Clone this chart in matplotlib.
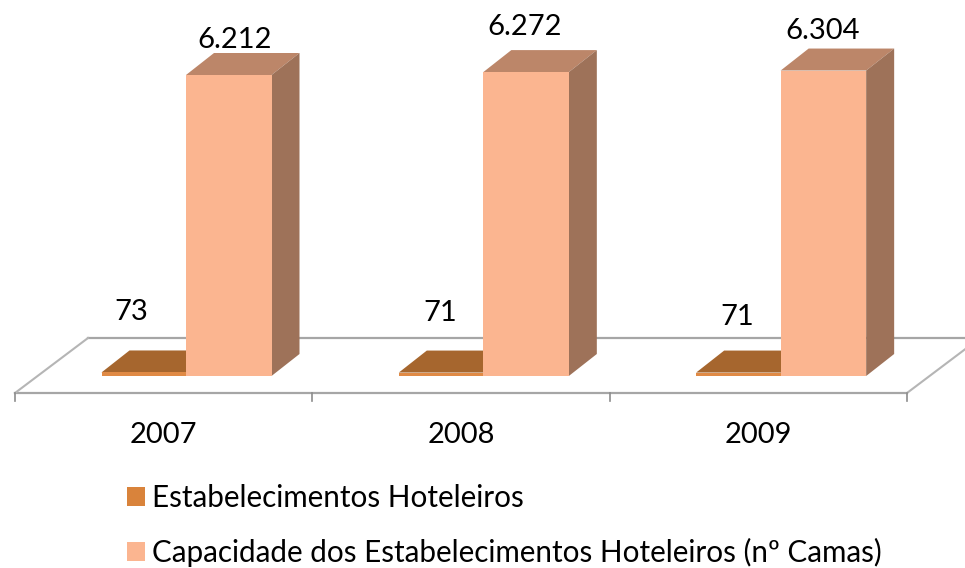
import matplotlib
matplotlib.use("Agg")
import matplotlib.pyplot as plt
from matplotlib.patches import Patch

years = ["2007", "2008", "2009"]
estabelecimentos = [73, 71, 71]
capacidade = [6212, 6272, 6304]
series_names = ["Estabelecimentos Hoteleiros",
                "Capacidade dos Estabelecimentos Hoteleiros (nº Camas)"]

plt.rcParams['font.family'] = ['Lato', 'DejaVu Sans']

W, H = 965, 568
px_x = 297.33          # pixels for one category
px_y = 301 / 6212      # pixels for one unit of value
x0_px, y0_px = 15, 376  # where category 0 edge and value 0 land

# 3d look, everything in pixels then scaled to data units
dx = 28 / px_x
dy = 22 / px_y
w1 = 84.5 / px_x
w2 = 85.5 / px_x
bar_start = 86.5 / px_x  # first bar starts here inside a category

fig = plt.figure(figsize=(W / 100, H / 100), dpi=100)
ax = fig.add_axes([0, 0, 1, 1])
ax.set_xlim(-x0_px / px_x, (W - x0_px) / px_x)
ax.set_ylim(-(H - y0_px) / px_y, y0_px / px_y)
ax.axis("off")


def box(x, w, val, front, top, side):
    r = x + w
    ax.fill([x, x + dx, r + dx, r], [val, val + dy, val + dy, val], color=top, lw=0, zorder=3)
    ax.fill([r, r + dx, r + dx, r], [0, dy, val + dy, val], color=side, lw=0, zorder=3)
    ax.fill([x, r, r, x], [0, 0, val, val], color=front, lw=0, zorder=3)


# floor of the chart
grey = "#a6a6a6"
n = len(years)
floor_y = -17 / px_y
back_y = 38 / px_y
depth_x = 73 / px_x
ax.plot([0, n], [floor_y, floor_y], color=grey, lw=1.6, zorder=1)
ax.plot([depth_x, n + depth_x], [back_y, back_y], color=grey, lw=1.6, zorder=1)
ax.plot([0, depth_x], [floor_y, back_y], color="#b5b5b5", lw=1.5, zorder=1)
ax.plot([n, n + depth_x], [floor_y, back_y], color="#b5b5b5", lw=1.5, zorder=1)
for i in range(n + 1):
    ax.plot([i, i], [floor_y, floor_y - 8 / px_y], color="#8c8c8c", lw=1.2, zorder=1)

# offsets of the value labels from the bar front top centre, pixels
est_off = [(-12, 60), (-1, 60), (-1, 56)]
cap_off = [(6, 35), (-1, 45), (-1, 40)]

for i, year in enumerate(years):
    x1 = i + bar_start
    x2 = x1 + w1
    box(x1, w1, estabelecimentos[i], "#e08a45", "#a6662e", "#a6662e")
    box(x2, w2, capacidade[i], "#fbb590", "#bc8669", "#9e7259")
    ax.annotate(str(estabelecimentos[i]), (x1 + w1 / 2, estabelecimentos[i]),
                xytext=(est_off[i][0] * 0.72, est_off[i][1] * 0.72), textcoords="offset points",
                ha="center", va="center", fontsize=21, color="black", zorder=5)
    label = f"{capacidade[i]:,}".replace(",", ".")
    ax.annotate(label, (x2 + w2 / 2, capacidade[i]),
                xytext=(cap_off[i][0] * 0.72, cap_off[i][1] * 0.72), textcoords="offset points",
                ha="center", va="center", fontsize=21, color="black", zorder=5)
    ax.annotate(year, (i + 0.5, floor_y), xytext=(0, -30.5), textcoords="offset points",
                ha="center", va="center", fontsize=21, color="black")

handles = [Patch(facecolor="#d9833b", label=series_names[0]),
           Patch(facecolor="#fbb590", label=series_names[1])]
ax.legend(handles=handles, loc="lower left", bbox_to_anchor=(106 / W, -20 / H), frameon=False,
          fontsize=21.3, handlelength=0.62, handleheight=0.62, handletextpad=0.23,
          labelspacing=0.9, borderpad=0.2)

fig.savefig("out.png", dpi=100)
